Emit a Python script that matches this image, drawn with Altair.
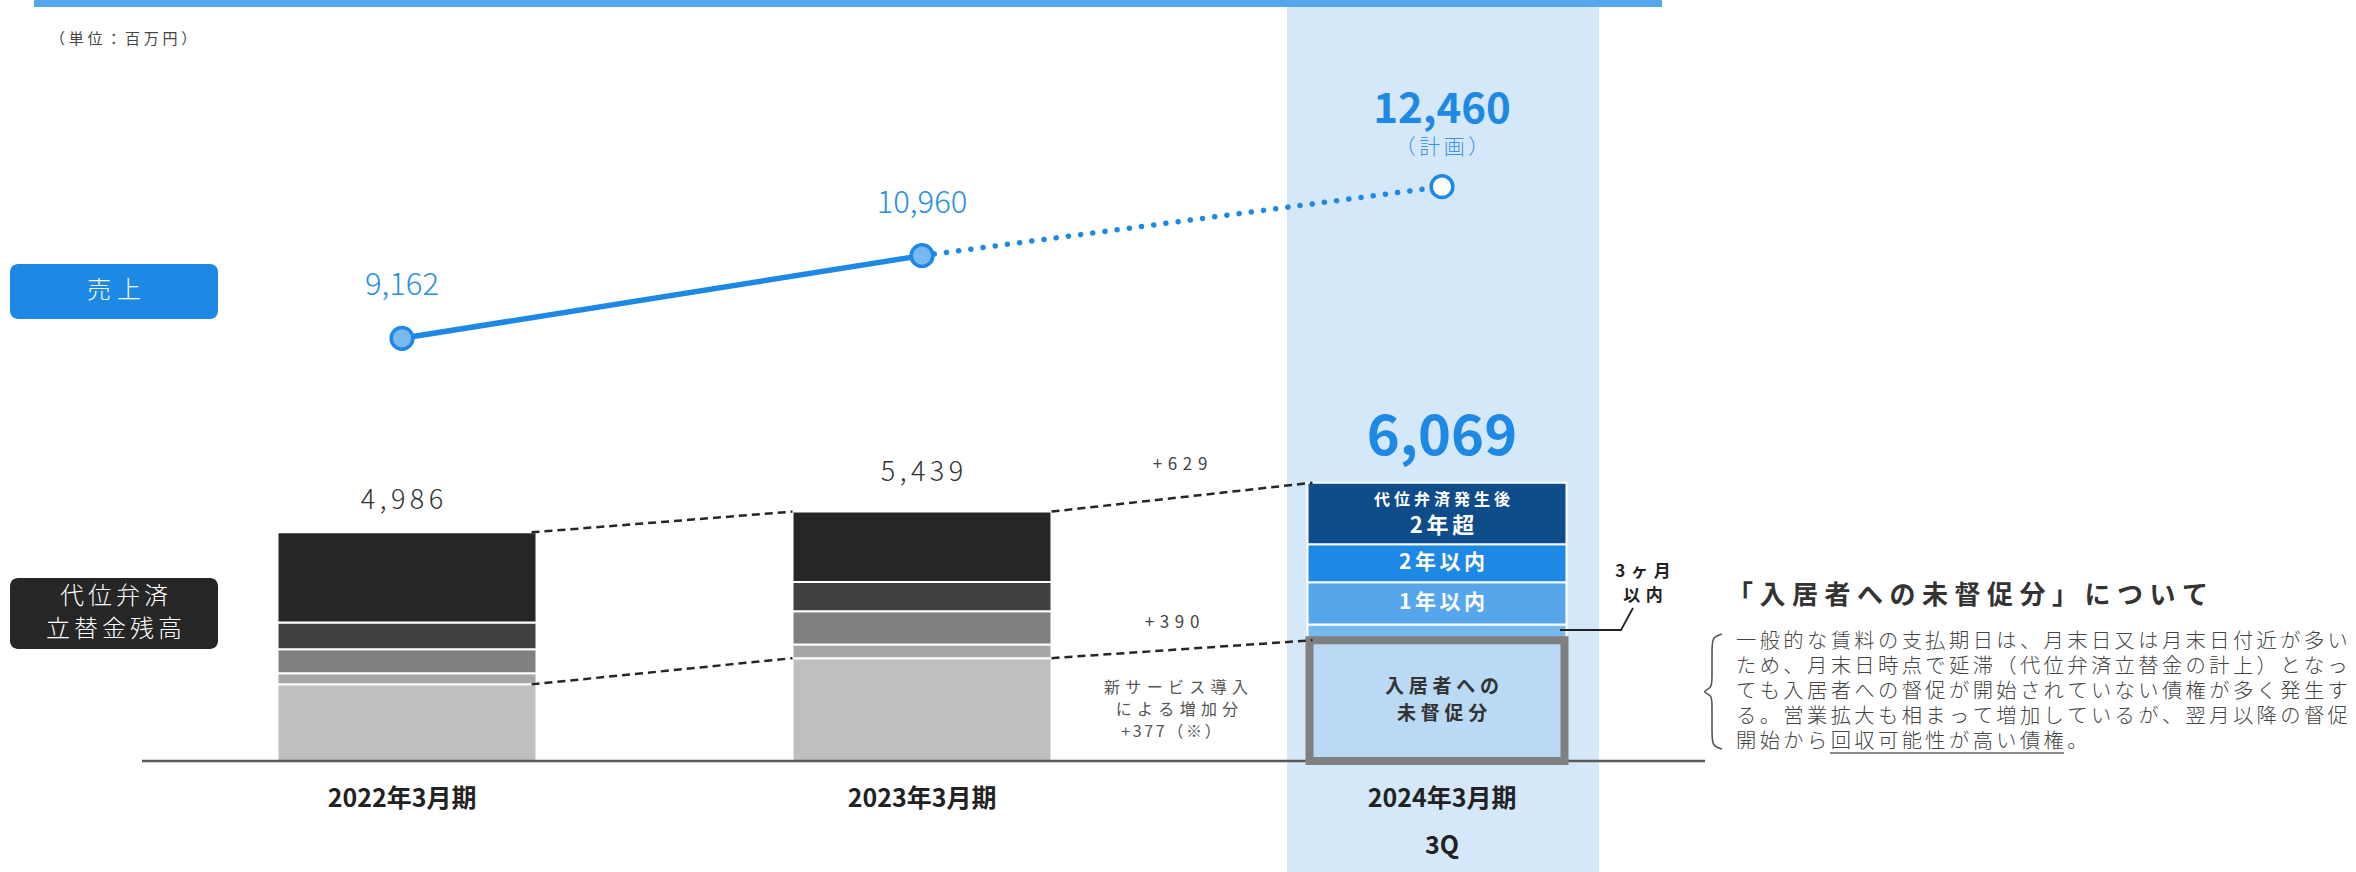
import altair as alt
import pandas as pd

FONT = "Noto Sans CJK JP"
S6 = "\u2006"   # 1/6 em space
S5 = "\u2005"   # 1/4 em space
S4 = "\u2004"   # 1/3 em space


def spaced(t, sp):
    return sp.join(list(t))


# ---------------- data ----------------
periods = ["2022年3月期", "2023年3月期", "2024年3月期"]
period_sub = "3Q"
period_idx = [0, 1, 2]

sales = [9162, 10960, 12460]
sales_fill = ["#7ab8f0", "#7ab8f0", "#ffffff"]
sales_plan_note = "（計画）"

# 代位弁済立替金残高 : stacked segments, bottom -> top
seg_2022 = [1671, 240, 524, 585, 1966]
seg_2023 = [2243, 299, 724, 635, 1538]
seg_2024 = [2633, 345, 920, 829, 1342]
grey_colors = ["#bfbfbf", "#a6a6a6", "#808080", "#404040", "#262626"]
blue_colors = ["#bad9f5", "#7ab8f0", "#56a6ec", "#1e88e5", "#0f4c8a"]
seg_2024_labels = [["入居者への", "未督促分"], ["3ヶ月", "以内"], ["1年以内"], ["2年以内"], ["代位弁済発生後", "2年超"]]

increase_labels = ["+629", "+390"]
new_service_note = ["新サービス導入", "による増加分", "+377（※）"]

unit_label = "（単位：百万円）"
label_sales = "売上"
label_balance = ["代位弁済", "立替金残高"]

heading = "「入居者への未督促分」について"
body_lines = [
    "一般的な賃料の支払期日は、月末日又は月末日付近が多い",
    "ため、月末日時点で延滞（代位弁済立替金の計上）となっ",
    "ても入居者への督促が開始されていない債権が多く発生す",
    "る。営業拡大も相まって増加しているが、翌月以降の督促",
    "開始から回収可能性が高い債権。",
]

# ---------------- tables ----------------
rows = []
for i, (segs, cols) in enumerate(zip([seg_2022, seg_2023, seg_2024], [grey_colors, grey_colors, blue_colors])):
    for k, (v, c) in enumerate(zip(segs, cols)):
        rows.append({"idx": i, "seg": k, "value": v, "color": c})
bars_df = pd.DataFrame(rows)

all_segs = [seg_2022, seg_2023, seg_2024]
totals = [sum(s) for s in all_segs]
bottoms = [s[0] for s in all_segs]
tot_df = pd.DataFrame({
    "idx": period_idx,
    "total": totals,
    "label": [spaced(f"{t:,}", S6) for t in totals[:2]] + [f"{totals[2]:,}"],
})

conn_rows = []
for i in range(2):
    conn_rows.append({"x": i, "x2": i + 1, "y": totals[i], "y2": totals[i + 1]})
    conn_rows.append({"x": i, "x2": i + 1, "y": bottoms[i], "y2": bottoms[i + 1]})
conn_df = pd.DataFrame(conn_rows)

cum = [sum(seg_2024[:k]) for k in range(5)]
mids = [cum[k] + seg_2024[k] / 2 for k in range(5)]
seg24_df = pd.DataFrame({"idx": [2] * 5, "seg": list(range(5)), "mid": mids})

sales_df = pd.DataFrame({
    "idx": period_idx,
    "sales": sales,
    "fill": sales_fill,
    "label": [f"{v:,}" for v in sales],
})

year_df = pd.DataFrame({"idx": period_idx, "label": periods})

# ---------------- scales ----------------
XS = alt.Scale(domain=[0, 2], range=[402, 1442], nice=False, zero=False)
YB = alt.Scale(domain=[0, 6069], range=[761, 482.7], nice=False, zero=False)
YS = alt.Scale(domain=[9162, 12460], range=[338.3, 186.7], nice=False, zero=False)


def X():
    return alt.X("idx:Q", scale=XS, axis=None)


one = pd.DataFrame({"k": [0]})


def prect(x1, x2, y1, y2, color, **kw):
    return alt.Chart(one).mark_rect(color=color, **kw).encode(
        x=alt.value(x1), x2=alt.value(x2), y=alt.value(y1), y2=alt.value(y2))


def ptext(text, x, y, size, color, weight="normal", align="center"):
    return alt.Chart(one).mark_text(
        text=text, font=FONT, fontSize=size, color=color, fontWeight=weight,
        align=align, baseline="middle").encode(x=alt.value(x), y=alt.value(y))


def prule(x1, x2, y1, y2, color, width):
    return alt.Chart(one).mark_rule(color=color, strokeWidth=width).encode(
        x=alt.value(x1), x2=alt.value(x2), y=alt.value(y1), y2=alt.value(y2))


L = []
# background decorations
L.append(prect(34, 1662, 0, 7, "#56a6ec"))
L.append(prect(1287, 1599, 7, 872, "#d5e8f9"))
L.append(ptext(spaced(unit_label, S5), 50, 39, 15, "#444444", align="left"))

# left category boxes
L.append(prect(10, 218, 264, 319, "#1e88e5", cornerRadius=8))
L.append(ptext(spaced(label_sales, S5), 114, 291, 24, "white", weight=300))
L.append(prect(10, 218, 578, 649, "#262626", cornerRadius=8))
L.append(ptext(spaced(label_balance[0], S6), 114, 597, 24, "white", weight=300))
L.append(ptext(spaced(label_balance[1], S6), 114, 630, 24, "white", weight=300))

# stacked bars
L.append(alt.Chart(bars_df).mark_bar(size=259, stroke="white", strokeWidth=2).encode(
    x=X(),
    y=alt.Y("value:Q", scale=YB, axis=None, stack="zero"),
    fill=alt.Fill("color:N", scale=None),
    order=alt.Order("seg:Q", sort="ascending"),
))

# baseline
L.append(prule(142, 1705, 761, 761, "#595959", 2.5))

# highlighted 未督促分 box
L.append(alt.Chart(bars_df).transform_filter("datum.idx == 2 && datum.seg == 0").mark_bar(
    size=255, stroke="#808080", strokeWidth=8, fill="#bad9f5").encode(
    x=X(), y=alt.Y("value:Q", scale=YB, axis=None)))

# dashed connectors
L.append(alt.Chart(conn_df).mark_rule(
    color="#262626", strokeWidth=2.5, strokeDash=[8, 5], xOffset=129.5, x2Offset=-129.5).encode(
    x=alt.X("x:Q", scale=XS, axis=None), x2="x2:Q",
    y=alt.Y("y:Q", scale=YB, axis=None), y2="y2:Q"))

# 2024 segment labels
def seglabel(seg, text, size, color, dy):
    return alt.Chart(seg24_df).transform_filter(f"datum.seg == {seg}").mark_text(
        text=text, font=FONT, fontSize=size, color=color, fontWeight="bold",
        baseline="middle", dy=dy).encode(x=X(), y=alt.Y("mid:Q", scale=YB, axis=None))


L.append(seglabel(4, spaced(seg_2024_labels[4][0], S5), 16, "white", -13.5))
L.append(seglabel(4, spaced(seg_2024_labels[4][1], S6), 22, "white", 13))
L.append(seglabel(3, spaced(seg_2024_labels[3][0], S6), 21, "white", 0))
L.append(seglabel(2, spaced(seg_2024_labels[2][0], S6), 21, "white", 0))
L.append(seglabel(0, spaced(seg_2024_labels[0][0], S5), 19, "#333333", -13.3))
L.append(seglabel(0, spaced(seg_2024_labels[0][1], S5), 19, "#333333", 13.3))

# 3ヶ月以内 callout
lead_df = pd.DataFrame({"px": [1560, 1621, 1633], "py": [630, 630, 608], "o": [0, 1, 2]})
L.append(alt.Chart(lead_df).mark_line(color="#222222", strokeWidth=1.8).encode(
    x=alt.X("px:Q", scale=None, axis=None), y=alt.Y("py:Q", scale=None, axis=None), order="o:Q"))
L.append(ptext(spaced(seg_2024_labels[1][0], S4), 1643, 572, 17, "#222222", weight="bold"))
L.append(ptext(spaced(seg_2024_labels[1][1], S4), 1643, 596, 17, "#222222", weight="bold"))

# totals
for i, dy in [(0, -31), (1, -39)]:
    L.append(alt.Chart(tot_df).transform_filter(f"datum.idx == {i}").mark_text(
        font=FONT, fontSize=27, color="#333333", fontWeight=300, baseline="middle", dy=dy).encode(
        x=X(), y=alt.Y("total:Q", scale=YB, axis=None), text="label:N"))
L.append(alt.Chart(tot_df).transform_filter("datum.idx == 2").mark_text(
    font=FONT, fontSize=56, color="#1e88e5", fontWeight="bold", baseline="middle", dy=-45).encode(
    x=X(), y=alt.Y("total:Q", scale=YB, axis=None), text="label:N"))

# sales line
L.append(alt.Chart(sales_df).transform_filter("datum.idx <= 1").mark_line(
    color="#1e88e5", strokeWidth=5.5).encode(x=X(), y=alt.Y("sales:Q", scale=YS, axis=None)))
L.append(alt.Chart(sales_df).transform_filter("datum.idx >= 1").mark_line(
    color="#1e88e5", strokeWidth=5.5, strokeDash=[0.1, 12.2], strokeCap="round").encode(
    x=X(), y=alt.Y("sales:Q", scale=YS, axis=None)))
L.append(alt.Chart(sales_df).mark_circle(
    size=470, stroke="#1e88e5", strokeWidth=3.5, opacity=1).encode(
    x=X(), y=alt.Y("sales:Q", scale=YS, axis=None), fill=alt.Fill("fill:N", scale=None)))
L.append(alt.Chart(sales_df).transform_filter("datum.idx <= 1").mark_text(
    font=FONT, fontSize=31, color="#2a8de6", fontWeight=300, baseline="middle", dy=-52).encode(
    x=X(), y=alt.Y("sales:Q", scale=YS, axis=None), text="label:N"))
L.append(alt.Chart(sales_df).transform_filter("datum.idx == 2").mark_text(
    font=FONT, fontSize=42, color="#1e88e5", fontWeight="bold", baseline="middle", dy=-77).encode(
    x=X(), y=alt.Y("sales:Q", scale=YS, axis=None), text="label:N"))
L.append(alt.Chart(sales_df).transform_filter("datum.idx == 2").mark_text(
    text=spaced(sales_plan_note, S6), font=FONT, fontSize=21, color="#3d93e3", fontWeight=300,
    baseline="middle", dy=-39).encode(x=X(), y=alt.Y("sales:Q", scale=YS, axis=None)))

# increase annotations
L.append(ptext(spaced(increase_labels[0], S4), 1180, 465, 17, "#444444"))
L.append(ptext(spaced(increase_labels[1], S4), 1172, 623, 17, "#444444"))
L.append(ptext(spaced(new_service_note[0], S4), 1176, 688, 16, "#555555"))
L.append(ptext(spaced(new_service_note[1], S4), 1177, 710, 16, "#555555"))
L.append(ptext(spaced(new_service_note[2], S6), 1171, 732, 16, "#555555"))

# period labels
L.append(alt.Chart(year_df).mark_text(
    font=FONT, fontSize=25, color="#222222", fontWeight="bold", baseline="middle").encode(
    x=X(), y=alt.value(799), text="label:N"))
L.append(alt.Chart(year_df).transform_filter("datum.idx == 2").mark_text(
    text=period_sub, font=FONT, fontSize=25, color="#222222", fontWeight="bold", baseline="middle").encode(
    x=X(), y=alt.value(846)))

# right-hand explanation
L.append(ptext(spaced(heading, S5), 1727, 596, 26, "#333333", weight="bold", align="left"))
for j, line in enumerate(body_lines):
    L.append(ptext(spaced(line, S6), 1736, 642 + 25 * j, 20.3, "#444444", weight=300, align="left"))
L.append(prule(1830, 2064, 753, 753, "#666666", 1.5))

brace_df = pd.DataFrame({
    "px": [1722, 1712, 1712, 1712, 1712, 1701, 1712, 1712, 1712, 1712, 1722],
    "py": [634, 637, 650, 680, 688, 691.7, 695, 703, 733, 746, 749],
    "o": list(range(11)),
})
L.append(alt.Chart(brace_df).mark_line(interpolate="basis", color="#555555", strokeWidth=1.6).encode(
    x=alt.X("px:Q", scale=None, axis=None), y=alt.Y("py:Q", scale=None, axis=None), order="o:Q"))

chart = alt.layer(*L).resolve_scale(x="independent", y="independent").properties(
    width=2356, height=872, padding=0, autosize="none", background="white"
).configure_view(stroke=None)

chart.save("out.html", embed_options={"renderer": "svg", "actions": False})
